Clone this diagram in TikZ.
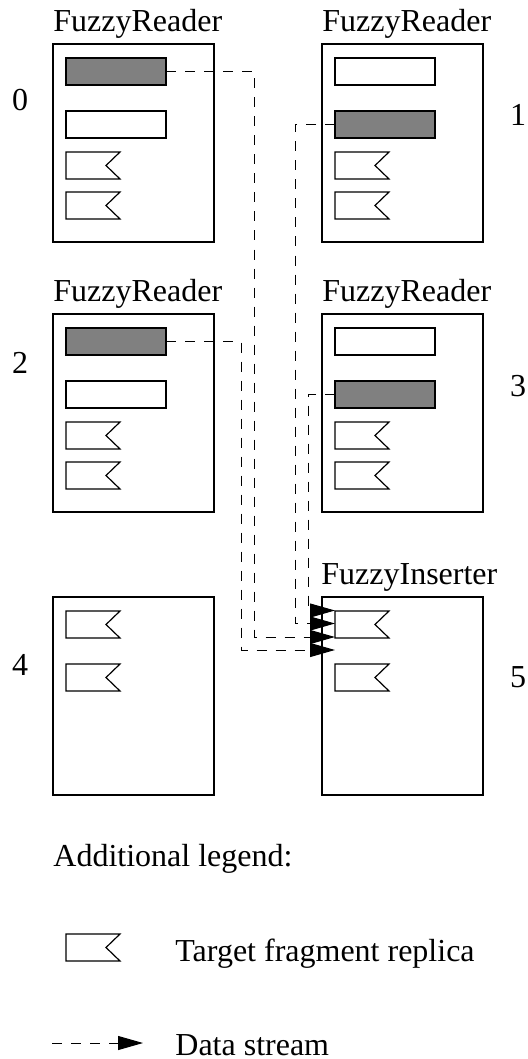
\documentclass[tikz,border=0pt]{standalone}
\usepackage{fontspec}
\setmainfont{Liberation Serif}
\usetikzlibrary{arrows.meta}

\begin{document}
\begin{tikzpicture}[line cap=butt,line join=miter,x=0.5pt,y=-0.5pt,
        frame/.style={draw,line width=0.6pt,minimum width=80.5pt,minimum height=99pt,inner sep=0pt,outer sep=0pt,anchor=north west},
        strip/.style={draw,line width=0.6pt,minimum width=50pt,minimum height=13.5pt,inner sep=0pt,outer sep=0pt,anchor=north west},
        hit/.style={strip,fill=black!50},
        replica/.style={draw,line width=0.6pt},
        stream/.style={line width=0.5pt,dash pattern=on 5pt off 4.5pt,-{Triangle[length=12.5pt,width=7pt]}},
        lbl/.style={inner sep=0pt,anchor=base west,font=\fontsize{16}{19}\selectfont},
        num/.style={inner sep=0pt,font=\fontsize{16}{19}\selectfont}]
    \useasboundingbox (0,0) rectangle (528,1059);
    % processes 0 and 1
    \node[frame] (r0) at (53,44) {};
    \node[hit] (g0) at (66,58) {};
    \node[strip] (s0) at (66,111) {};
    \draw[replica] (66,152) -- ++(54,0) -- ++(-14,13.5) -- ++(14,13.5) -- ++(-54,0) -- cycle;
    \draw[replica] (66,192) -- ++(54,0) -- ++(-14,13.5) -- ++(14,13.5) -- ++(-54,0) -- cycle;
    \node[frame] (r1) at (322,44) {};
    \node[strip] (s1) at (335,58) {};
    \node[hit] (g1) at (335,111) {};
    \draw[replica] (335,152) -- ++(54,0) -- ++(-14,13.5) -- ++(14,13.5) -- ++(-54,0) -- cycle;
    \draw[replica] (335,192) -- ++(54,0) -- ++(-14,13.5) -- ++(14,13.5) -- ++(-54,0) -- cycle;
    % processes 2 and 3
    \node[frame] (r2) at (53,314) {};
    \node[hit] (g2) at (66,328) {};
    \node[strip] (s2) at (66,381) {};
    \draw[replica] (66,422) -- ++(54,0) -- ++(-14,13.5) -- ++(14,13.5) -- ++(-54,0) -- cycle;
    \draw[replica] (66,462) -- ++(54,0) -- ++(-14,13.5) -- ++(14,13.5) -- ++(-54,0) -- cycle;
    \node[frame] (r3) at (322,314) {};
    \node[strip] (s3) at (335,328) {};
    \node[hit] (g3) at (335,381) {};
    \draw[replica] (335,422) -- ++(54,0) -- ++(-14,13.5) -- ++(14,13.5) -- ++(-54,0) -- cycle;
    \draw[replica] (335,462) -- ++(54,0) -- ++(-14,13.5) -- ++(14,13.5) -- ++(-54,0) -- cycle;
    % processes 4 and 5
    \node[frame] (r4) at (53,597) {};
    \draw[replica] (66,611) -- ++(54,0) -- ++(-14,13.5) -- ++(14,13.5) -- ++(-54,0) -- cycle;
    \draw[replica] (66,664) -- ++(54,0) -- ++(-14,13.5) -- ++(14,13.5) -- ++(-54,0) -- cycle;
    \node[frame] (r5) at (322,597) {};
    \draw[replica] (335,611) -- ++(54,0) -- ++(-14,13.5) -- ++(14,13.5) -- ++(-54,0) -- cycle;
    \draw[replica] (335,664) -- ++(54,0) -- ++(-14,13.5) -- ++(14,13.5) -- ++(-54,0) -- cycle;
    % entry points on the inserter
    \coordinate (in1) at (335,610.5);
    \coordinate (in2) at (335,623.5);
    \coordinate (in3) at (335,637);
    \coordinate (in4) at (335,650);
    \draw[stream] (g3.west) -| (308,610.5) -- (in1);
    \draw[stream] (g1.west) -| (295,623.5) -- (in2);
    \draw[stream] (g0.east) -| (254,637) -- (in3);
    \draw[stream] (g2.east) -| (241,650) -- (in4);
    % titles and ranks
    \node[lbl] (t0) at (53,31.5) {FuzzyReader};
    \node[lbl] (t1) at (322,31.5) {FuzzyReader};
    \node[lbl] (t2) at (53,301.5) {FuzzyReader};
    \node[lbl] (t3) at (322,301.5) {FuzzyReader};
    \node[lbl] (t5) at (321,584) {FuzzyInserter};
    \node[num] (n0) at (20,100) {0};
    \node[num] (n1) at (518,115) {1};
    \node[num] (n2) at (20,363) {2};
    \node[num] (n3) at (518,386) {3};
    \node[num] (n4) at (20,665) {4};
    \node[num] (n5) at (518,677) {5};
    % legend
    \node[lbl] (lg) at (53,866) {Additional legend:};
    \draw[replica] (66,934) -- ++(54,0) -- ++(-14,13.5) -- ++(14,13.5) -- ++(-54,0) -- cycle;
    \node[lbl] (lgr) at (175,961) {Target fragment replica};
    \coordinate (ds0) at (52,1043);
    \coordinate (ds1) at (143,1043);
    \draw[stream] (ds0) -- (ds1);
    \node[lbl] (lgs) at (175,1055) {Data stream};
\end{tikzpicture}
\end{document}
